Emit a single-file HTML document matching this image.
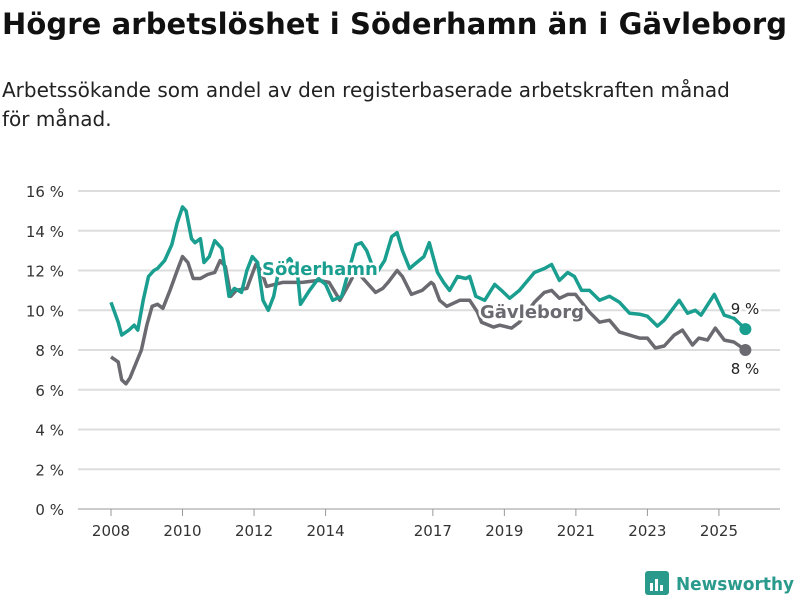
<!DOCTYPE html>
<html><head><meta charset="utf-8"><style>
body{margin:0;background:#fff;font-family:"Liberation Sans","DejaVu Sans",sans-serif;}
svg text{font-family:"DejaVu Sans","Liberation Sans",sans-serif;}
</style></head><body>
<svg id="chart" width="800" height="600" xmlns="http://www.w3.org/2000/svg">
<text x="2" y="34" font-size="29" font-weight="bold" fill="#111" textLength="785">Högre arbetslöshet i Söderhamn än i Gävleborg</text>
<text x="2" y="97" font-size="20" fill="#222">Arbetssökande som andel av den registerbaserade arbetskraften månad</text>
<text x="2" y="126" font-size="20" fill="#222">för månad.</text>
<g id="grid"></g><g id="lines"></g><g id="labels"></g>
<g>
<rect x="645" y="571" width="24" height="24" rx="3" fill="#2a9a8c"/>
<rect x="650" y="583" width="3" height="8" fill="#fff"/><rect x="655" y="579" width="3" height="12" fill="#fff"/><rect x="660" y="585" width="3" height="6" fill="#fff"/>
<text x="676" y="590" font-size="18" font-weight="bold" fill="#2a9a8c" textLength="118" lengthAdjust="spacingAndGlyphs">Newsworthy</text>
</g>
</svg>
<script>
const yTicks=[0,2,4,6,8,10,12,14,16];
const xTicks=[2008,2010,2012,2014,2017,2019,2021,2023,2025];
const sodYears=[2008.0,2008.2,2008.3,2008.5,2008.65,2008.75,2008.9,2009.05,2009.2,2009.3,2009.5,2009.7,2009.85,2010.0,2010.1,2010.25,2010.35,2010.5,2010.6,2010.75,2010.9,2011.1,2011.3,2011.45,2011.65,2011.8,2011.95,2012.1,2012.25,2012.4,2012.55,2012.7,2013.0,2013.2,2013.3,2013.55,2013.8,2014.0,2014.2,2014.45,2014.65,2014.85,2015.0,2015.15,2015.4,2015.65,2015.85,2016.0,2016.15,2016.35,2016.55,2016.75,2016.9,2017.02,2017.13,2017.3,2017.47,2017.69,2017.92,2018.03,2018.2,2018.45,2018.73,2018.92,2019.15,2019.42,2019.84,2020.12,2020.32,2020.54,2020.77,2020.96,2021.16,2021.38,2021.66,2021.94,2022.22,2022.5,2022.78,2023.0,2023.28,2023.47,2023.89,2024.12,2024.34,2024.5,2024.87,2025.15,2025.42,2025.74];
const sodValues=[10.4,9.4,8.75,9.0,9.25,9.0,10.5,11.7,12.0,12.1,12.5,13.3,14.4,15.2,15.0,13.6,13.4,13.6,12.4,12.7,13.5,13.1,10.7,11.1,10.9,12.0,12.7,12.4,10.5,10.0,10.7,12.1,12.6,12.1,10.3,11.0,11.6,11.3,10.5,10.7,12.0,13.3,13.4,13.0,11.8,12.5,13.7,13.9,13.0,12.1,12.4,12.7,13.4,12.6,11.9,11.4,11.0,11.7,11.6,11.7,10.7,10.5,11.3,11.0,10.6,11.0,11.9,12.1,12.3,11.5,11.9,11.7,11.0,11.0,10.5,10.7,10.4,9.85,9.8,9.7,9.2,9.5,10.5,9.85,10.0,9.75,10.8,9.75,9.6,9.05];
const gavYears=[2008.0,2008.2,2008.3,2008.42,2008.53,2008.85,2009.0,2009.15,2009.3,2009.45,2009.65,2009.85,2010.0,2010.15,2010.3,2010.5,2010.7,2010.9,2011.05,2011.2,2011.35,2011.5,2011.8,2012.05,2012.2,2012.35,2012.8,2013.35,2013.8,2014.1,2014.4,2014.65,2014.85,2015.05,2015.4,2015.6,2015.75,2016.0,2016.15,2016.4,2016.7,2016.95,2017.02,2017.19,2017.39,2017.75,2018.03,2018.25,2018.36,2018.7,2018.87,2019.2,2019.42,2019.84,2020.12,2020.32,2020.54,2020.77,2020.99,2021.38,2021.66,2021.94,2022.22,2022.5,2022.78,2023.0,2023.22,2023.47,2023.75,2023.98,2024.26,2024.44,2024.68,2024.9,2025.15,2025.42,2025.74];
const gavValues=[7.65,7.4,6.5,6.3,6.6,8.0,9.25,10.2,10.3,10.1,11.0,12.0,12.7,12.4,11.6,11.6,11.8,11.9,12.5,12.2,10.7,11.0,11.1,12.3,12.0,11.2,11.4,11.4,11.5,11.4,10.5,11.3,12.0,11.6,10.9,11.1,11.4,12.0,11.7,10.8,11.0,11.4,11.3,10.5,10.2,10.5,10.5,9.9,9.4,9.15,9.25,9.1,9.4,10.4,10.9,11.0,10.6,10.8,10.8,9.9,9.4,9.5,8.9,8.75,8.6,8.6,8.1,8.2,8.75,9.0,8.25,8.6,8.5,9.1,8.5,8.4,8.0];
const x=v=>111+(v-2008)*35.76;
const y=v=>509-v*19.875;
const NS="http://www.w3.org/2000/svg";
function mk(tag,attrs,parent){const e=document.createElementNS(NS,tag);for(const k in attrs)e.setAttribute(k,attrs[k]);parent.appendChild(e);return e;}
const grid=document.getElementById('grid');
yTicks.forEach(t=>{
 const l=mk('line',{x1:78,x2:780,y1:y(t),y2:y(t),stroke:t===0?'#ccc':'#ddd','stroke-width':2},grid);
 
 
 const tx=mk('text',{x:64,y:y(t)+6,'font-size':15,fill:'#333','text-anchor':'end'},grid);
 tx.textContent=t+' %';
 
 
});
xTicks.forEach(t=>{
 const l=mk('line',{x1:x(t),x2:x(t),y1:509,y2:516,stroke:'#999','stroke-width':1},grid);
 
 
 const tx=mk('text',{x:x(t),y:536,'font-size':15,fill:'#333','text-anchor':'middle'},grid);
 tx.textContent=t;
 
 
});
const lines=document.getElementById('lines');
function series(ys,vs,color,name){
 const d=ys.map((a,i)=>(i?'L':'M')+x(a).toFixed(1)+' '+y(vs[i]).toFixed(1)).join(' ');
 const p=mk('path',{d:d,fill:'none',stroke:color,'stroke-width':3.5,'stroke-linejoin':'round'},lines);
 
 
 const c=mk('circle',{cx:x(ys[ys.length-1]),cy:y(vs[vs.length-1]),r:6,fill:color},lines);
 
 
}
series(gavYears,gavValues,'#6b6a70','gavleborg');
series(sodYears,sodValues,'#1a9e8f','soderhamn');
const lab=document.getElementById('labels');
function label(t,xx,yy,col,size,w,name,anchor){
 const e=mk('text',{x:xx,y:yy,'font-size':size,'font-weight':w,fill:col,stroke:'#fff','stroke-width':5,'paint-order':'stroke','stroke-linejoin':'round','text-anchor':anchor||'start'},lab);
 e.textContent=t;
 
 
}
label('Söderhamn',262,275,'#1a9e8f',18,'bold','soderhamn-label');
label('Gävleborg',480,318,'#6b6a70',18,'bold','gavleborg-label');
label('9 %',745,314,'#222',15,'normal','soderhamn-end-value','middle');
label('8 %',745,374,'#222',15,'normal','gavleborg-end-value','middle');
</script>
</body></html>
